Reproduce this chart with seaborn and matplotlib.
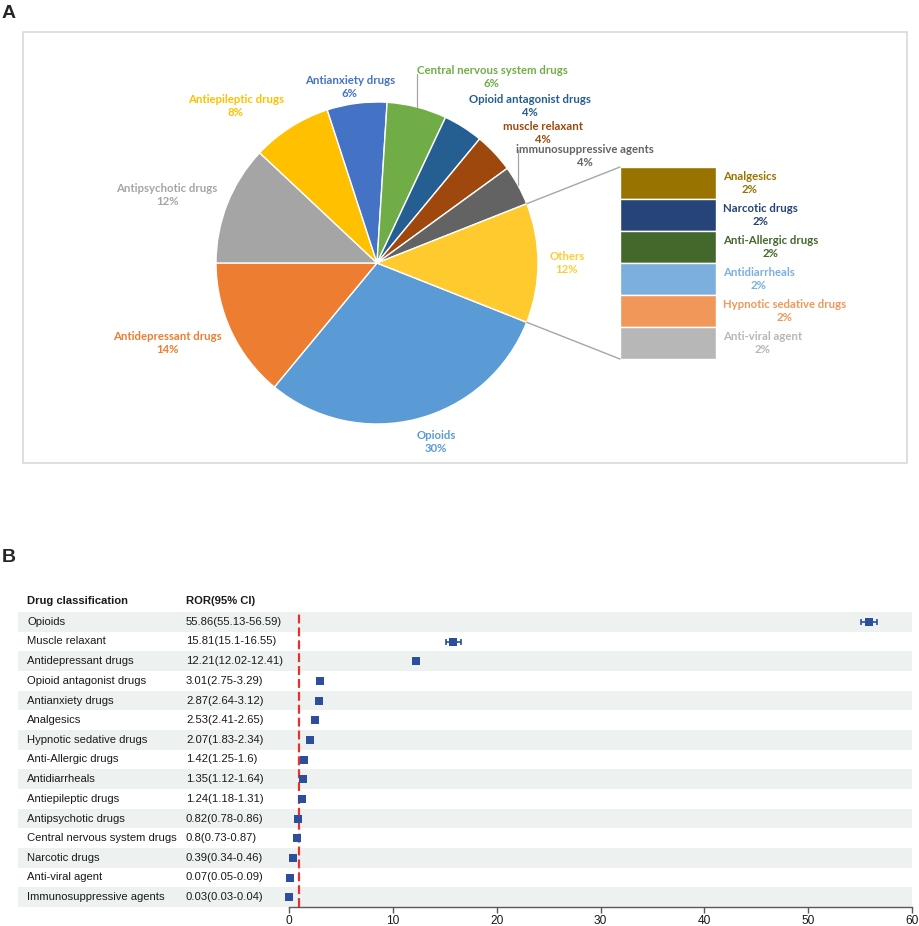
import numpy as np
import pandas as pd
import matplotlib.pyplot as plt
import matplotlib.patches as patches
from matplotlib.patches import ConnectionPatch
import seaborn as sns

sns.set_theme(style='white')
plt.rcParams['font.family'] = ['Liberation Sans', 'DejaVu Sans']

# ---- panel A data: share of reports by drug class
pie_names = ['Opioids', 'Antidepressant drugs', 'Antipsychotic drugs', 'Antiepileptic drugs',
             'Antianxiety drugs', 'Central nervous system drugs', 'Opioid antagonist drugs',
             'muscle relaxant', 'immunosuppressive agents', 'Others']
pie_pct = [30, 14, 12, 8, 6, 6, 4, 4, 4, 12]
pie_colors = ['#5B9BD5', '#ED7D31', '#A5A5A5', '#FFC000', '#4472C4', '#70AD47',
              '#255E91', '#9E480E', '#636363', '#FFCA2E']
pie_label_colors = ['#5B9BD5', '#ED7D31', '#A5A5A5', '#FFC000', '#4472C4', '#70AD47',
                    '#255E91', '#9E480E', '#636363', '#FFCD33']

other_names = ['Analgesics', 'Narcotic drugs', 'Anti-Allergic drugs', 'Antidiarrheals',
               'Hypnotic sedative drugs', 'Anti-viral agent']
other_pct = [2, 2, 2, 2, 2, 2]
other_colors = ['#997300', '#264478', '#43682B', '#7CAFDD', '#F1975A', '#B7B7B7']

# ---- panel B data: ROR with 95% CI
drugs = ['Opioids', 'Muscle relaxant', 'Antidepressant drugs', 'Opioid antagonist drugs',
         'Antianxiety drugs', 'Analgesics', 'Hypnotic sedative drugs', 'Anti-Allergic drugs',
         'Antidiarrheals', 'Antiepileptic drugs', 'Antipsychotic drugs',
         'Central nervous system drugs', 'Narcotic drugs', 'Anti-viral agent',
         'Immunosuppressive agents']
ror = [55.86, 15.81, 12.21, 3.01, 2.87, 2.53, 2.07, 1.42, 1.35, 1.24, 0.82, 0.8, 0.39, 0.07, 0.03]
ci_low = [55.13, 15.1, 12.02, 2.75, 2.64, 2.41, 1.83, 1.25, 1.12, 1.18, 0.78, 0.73, 0.34, 0.05, 0.03]
ci_high = [56.59, 16.55, 12.41, 3.29, 3.12, 2.65, 2.34, 1.6, 1.64, 1.31, 0.86, 0.87, 0.46, 0.09, 0.04]
x_ticks = [0, 10, 20, 30, 40, 50, 60]

# label spots around the pie (pie units, radius 1)
label_xy = [(0.366, -1.112), (-1.304, -0.497), (-1.304, 0.422), (-0.876, 0.975),
            (-0.168, 1.093), (0.714, 1.155), (0.950, 0.975), (1.031, 0.807),
            (1.292, 0.665), (1.18, 0.0)]
leader_for = {'Central nervous system drugs': 1.174, 'immunosuppressive agents': 0.70}

W, H = 920, 926
fig = plt.figure(figsize=(W / 100, H / 100), dpi=100)


def fax(l, t, r, b):
    return fig.add_axes([l / W, 1 - b / H, (r - l) / W, (b - t) / H])


pie_font = dict(family=['Lato', 'DejaVu Sans'], weight='bold', fontsize=8.2)
txt = '#1A1A1A'

# frame of panel A
fig.add_artist(patches.Rectangle((23 / W, 1 - 463 / H), 884 / W, 431 / H, transform=fig.transFigure,
                                 fill=False, edgecolor='#D9D9D9', lw=1.2))
fig.text(2 / W, 1 - 14 / H, 'A', fontsize=14, weight='heavy', va='center')
fig.text(2 / W, 1 - 557 / H, 'B', fontsize=14, weight='heavy', va='center')

# ---- pie
ax_pie = fax(216, 102, 538, 424)
others_share = pie_pct[-1] / sum(pie_pct)
start = -others_share * 360 / 2
wedges, _ = ax_pie.pie(pie_pct, colors=pie_colors, startangle=start, counterclock=False,
                       wedgeprops=dict(edgecolor='white', linewidth=1))
ax_pie.set_xlim(-1, 1)
ax_pie.set_ylim(-1, 1)
ax_pie.set_aspect('equal')
ax_pie.axis('off')

for w, name, pct, col, (lx, ly) in zip(wedges, pie_names, pie_pct, pie_label_colors, label_xy):
    ax_pie.text(lx, ly, f'{name}\n{pct}%', ha='center', va='center', color=col,
                linespacing=1.25, **pie_font)
    if name in leader_for:
        mid = np.deg2rad((w.theta1 + w.theta2) / 2)
        ax_pie.plot([np.cos(mid), np.cos(mid)], [np.sin(mid), leader_for[name]],
                    color='#A6A6A6', lw=0.9, clip_on=False)

# ---- bar of "Others"
ax_bar = fax(620, 167, 716, 359)
total = sum(other_pct)
for i, (name, pct, col) in enumerate(zip(other_names, other_pct, other_colors)):
    bottom = sum(other_pct[i + 1:])
    ax_bar.bar(0, pct, bottom=bottom, width=1, color=col, edgecolor='white', linewidth=1)
    ax_bar.text(0.573, bottom + pct / 2, f'{name}\n{pct}%', ha='left', va='center',
                multialignment='center', color=col, linespacing=1.25, **pie_font)
ax_bar.set_xlim(-0.5, 0.5)
ax_bar.set_ylim(0, total)
ax_bar.axis('off')

ow = wedges[-1]
for ang, yb in [(ow.theta2, total), (ow.theta1, 0)]:
    a = np.deg2rad(ang)
    con = ConnectionPatch(xyA=(np.cos(a), np.sin(a)), coordsA=ax_pie.transData,
                          xyB=(-0.5, yb), coordsB=ax_bar.transData, color='#A6A6A6', lw=1)
    fig.add_artist(con)

# ---- forest plot
df = pd.DataFrame({'drug': drugs, 'ror': ror, 'lo': ci_low, 'hi': ci_high})
df['row'] = np.arange(len(df))
stripe = '#EDF2F0'
blue = '#2D4E9C'

ax_tab = fax(18, 612, 912, 907)
ax_tab.set_xlim(18, 912)
ax_tab.set_ylim(len(df) - 0.5, -0.5)
ax_tab.axis('off')
ax_tab.barh(df['row'][::2], 912 - 18, left=18, height=1, color=stripe, linewidth=0)
for _, r in df.iterrows():
    ax_tab.text(27, r['row'], r['drug'], va='center', fontsize=8.1, color=txt)
    ax_tab.text(186, r['row'], f"{r['ror']}({r['lo']}-{r['hi']})", va='center',
                fontsize=8.1, color=txt)
ax_tab.text(27, -1.08, 'Drug classification', va='center', fontsize=8.1, weight='bold', color=txt)
ax_tab.text(186, -1.08, 'ROR(95% CI)', va='center', fontsize=8.1, weight='bold', color=txt)

ax_f = fax(289, 612, 912, 907)
ax_f.set_facecolor('none')
ax_f.axvline(1, color='#E8312C', lw=1.6, ls=(0, (4, 1.8)), zorder=1)
ax_f.errorbar(df['ror'], df['row'], xerr=[df['ror'] - df['lo'], df['hi'] - df['ror']],
              fmt='none', ecolor=blue, elinewidth=1.2, capsize=2.5, capthick=1.2, zorder=2)
sns.scatterplot(data=df, x='ror', y='row', marker='s', s=36, color=blue, linewidth=0,
                ax=ax_f, clip_on=False, zorder=3)
ax_f.set_xlim(0, 60)
ax_f.set_ylim(len(df) - 0.5, -0.5)
ax_f.set_xticks(x_ticks)
ax_f.set_yticks([])
ax_f.set_xlabel('')
ax_f.set_ylabel('')
for s in ['left', 'top', 'right']:
    ax_f.spines[s].set_visible(False)
ax_f.spines['bottom'].set_color('#595959')
ax_f.spines['bottom'].set_linewidth(1)
ax_f.tick_params(axis='x', bottom=True, direction='out', length=4, width=1, color='#595959',
                 labelsize=8.6, pad=2, labelcolor=txt)

fig.savefig('out.png', dpi=100)
